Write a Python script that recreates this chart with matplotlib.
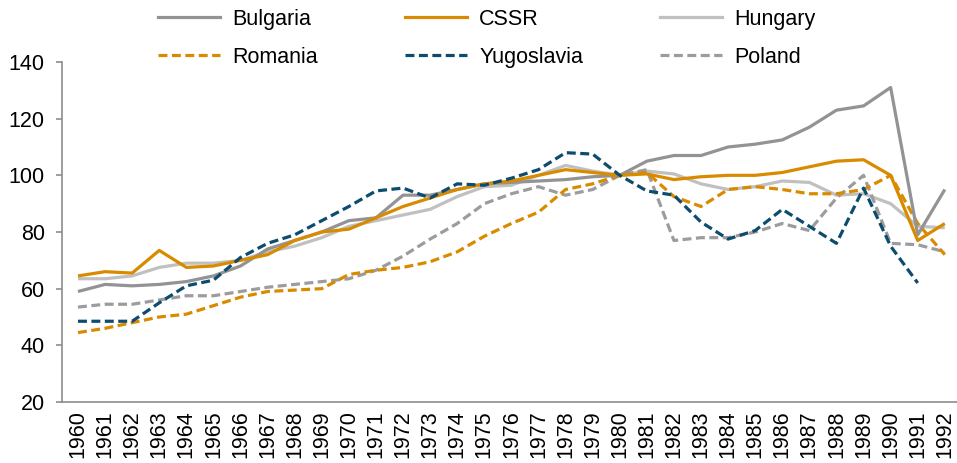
import matplotlib
matplotlib.use("Agg")
import matplotlib.pyplot as plt
from matplotlib.lines import Line2D

years = list(range(1960, 1993))

bulgaria = [59, 61.5, 61, 61.5, 62.5, 64.5, 68, 74, 77, 80, 84, 85, 93, 93, 95, 97, 97.5,
            98, 98.5, 99.5, 100, 105, 107, 107, 110, 111, 112.5, 117, 123, 124.5, 131, 79, 95]
cssr = [64.5, 66, 65.5, 73.5, 67.5, 68, 70, 72, 77, 80, 81, 85, 89, 92, 95, 97, 98,
        100, 102, 101, 100, 100.5, 98.5, 99.5, 100, 100, 101, 103, 105, 105.5, 100, 77, 83]
hungary = [63.5, 63.5, 64.5, 67.5, 69, 69, 70, 73, 75, 78, 82, 84, 86, 88, 92.5, 96, 96.5,
           100, 103.5, 101.5, 100, 101.5, 100.5, 97, 95, 96, 98, 97.5, 93, 93.5, 90, 82, 81.5]
romania = [44.5, 46, 48, 50, 51, 54, 57, 59, 59.5, 60, 65, 66.5, 67.5, 69.5, 73, 78.5, 83,
           87, 95, 97, 100, 101, 92.5, 89, 95, 96, 95, 93.5, 93.5, 95, 100, 83, 72]
yugoslavia = [48.5, 48.5, 48.5, 55, 61, 63, 71, 76, 79, 84, 89, 94.5, 95.5, 92, 97, 96.5, 99,
              102, 108, 107.5, 100, 94.5, 93, 83.5, 77.5, 80.5, 88, 82, 76, 95.5, 75, 62, None]
poland = [53.5, 54.5, 54.5, 56, 57.5, 57.5, 59, 60.5, 61.5, 62.5, 63.5, 66.5, 71.5, 77.5, 83,
          90, 93.5, 96, 93, 95, 100, 102, 77, 78, 78, 80, 83, 80.5, 92, 100, 76, 75.5, 73]

series_names = ["Bulgaria", "CSSR", "Hungary", "Romania", "Yugoslavia", "Poland"]
y_ticks = [20, 40, 60, 80, 100, 120, 140]

plt.rcParams['font.family'] = ['Liberation Sans', 'DejaVu Sans']
FS = 15.5

fig = plt.figure(figsize=(9.57, 4.63), dpi=100)
ax = fig.add_axes([62/957, 61/463, 895/957, 340/463])

x = list(range(len(years)))
dash = (2.8, 1.4)
styles = {
    "Bulgaria": dict(color="#939395", ls="-"),
    "CSSR": dict(color="#D98B00", ls="-"),
    "Hungary": dict(color="#C0C0C0", ls="-"),
    "Romania": dict(color="#D98B00", ls="--"),
    "Yugoslavia": dict(color="#0D4C6E", ls="--"),
    "Poland": dict(color="#9C9C9E", ls="--"),
}
data = {"Bulgaria": bulgaria, "CSSR": cssr, "Hungary": hungary,
        "Romania": romania, "Yugoslavia": yugoslavia, "Poland": poland}

for name in ["Hungary", "Poland", "Romania", "Bulgaria", "CSSR", "Yugoslavia"]:
    vals = [float('nan') if v is None else v for v in data[name]]
    st = styles[name]
    ln, = ax.plot(x, vals, color=st["color"], lw=2.3, solid_capstyle='butt')
    if st["ls"] == "--":
        ln.set_linestyle((0, dash))

ax.set_xlim(-0.59, len(years) - 1 + 0.45)
ax.set_ylim(20, 140)
ax.set_yticks(y_ticks)
ax.set_yticklabels([str(t) for t in y_ticks], fontsize=FS)
ax.set_xticks(x)
ax.set_xticklabels([str(y) for y in years], rotation=90, fontsize=FS)
ax.tick_params(axis='x', length=0, pad=6)
ax.tick_params(axis='y', length=4.5, width=1.2, color="#8C8C8C", pad=8)
for s in ["top", "right"]:
    ax.spines[s].set_visible(False)
for s in ["left", "bottom"]:
    ax.spines[s].set_color("#8C8C8C")
    ax.spines[s].set_linewidth(1.2)

cols = [("Bulgaria", "Romania", 158), ("CSSR", "Yugoslavia", 405), ("Hungary", "Poland", 660)]
for a, b, px in cols:
    hs = []
    for n in (a, b):
        st = styles[n]
        h = Line2D([], [], color=st["color"], lw=2.3,
                   linestyle="-" if st["ls"] == "-" else (0, dash))
        hs.append(h)
    fig.legend(hs, [a, b], loc="upper left", bbox_to_anchor=(px/957, 1 - 9/463),
               frameon=False, fontsize=FS, handlelength=2.9, handletextpad=0.55,
               borderpad=0, borderaxespad=0, labelspacing=0.78)

fig.savefig("out.png", dpi=100)
